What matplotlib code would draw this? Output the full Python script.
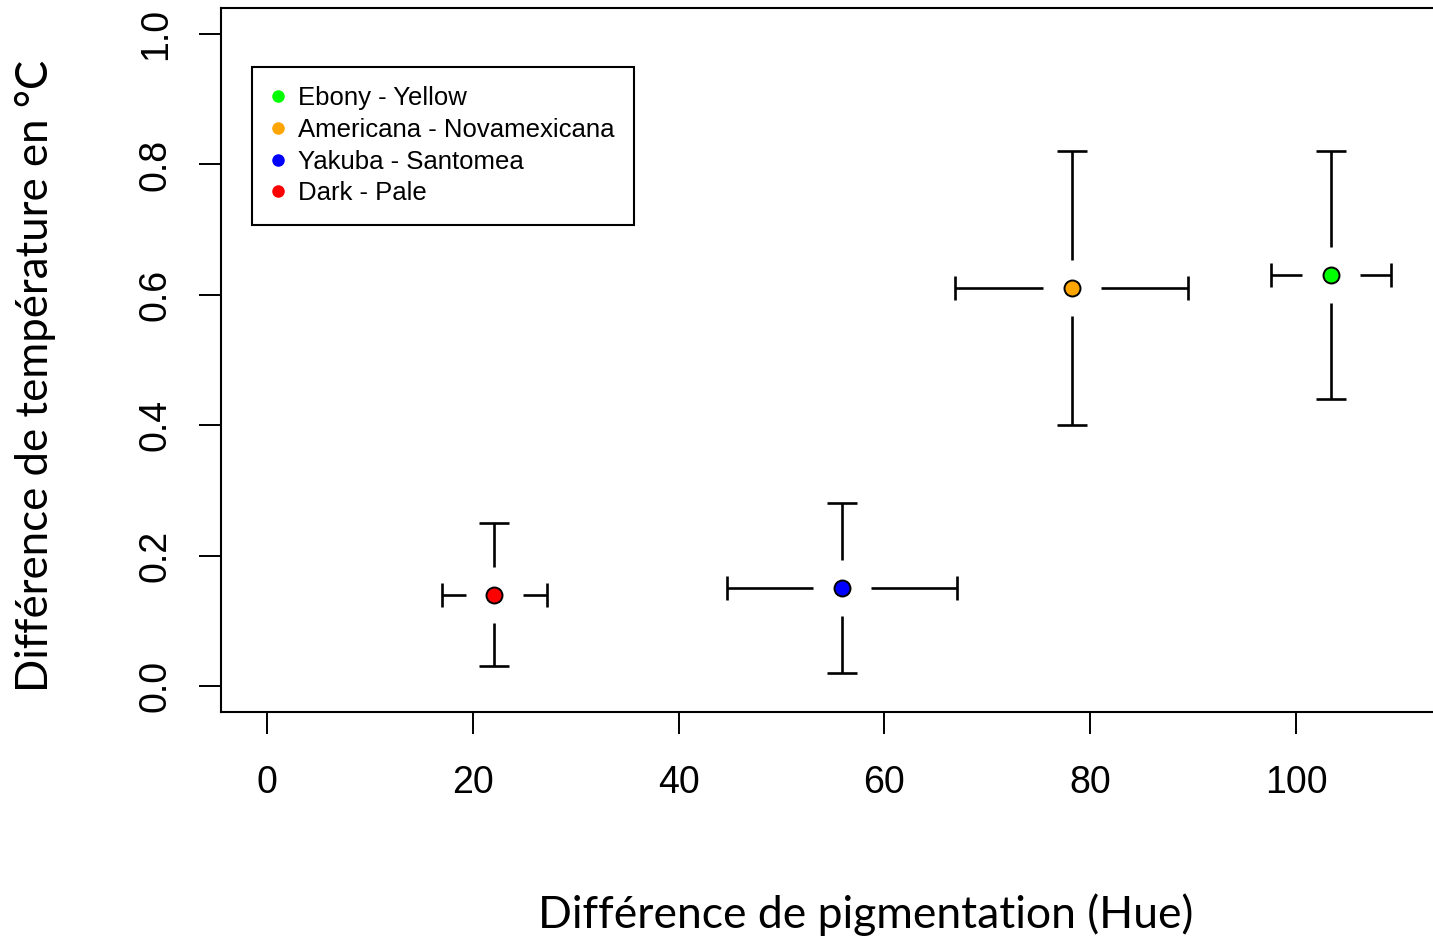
import matplotlib.pyplot as plt
import numpy as np

# data
names = ['Ebony - Yellow', 'Americana - Novamexicana', 'Yakuba - Santomea', 'Dark - Pale']
colors = ['#00FF00', '#FFA500', '#0000FF', '#FF0000']
hue = [103.4, 78.2, 55.9, 22.1]
hue_err = [5.8, 11.3, 11.2, 5.1]
temp = [0.63, 0.61, 0.15, 0.14]
temp_lo = [0.44, 0.40, 0.02, 0.03]
temp_hi = [0.82, 0.82, 0.28, 0.25]

W, H = 1433, 940
fig = plt.figure(figsize=(W / 100, H / 100), dpi=100)
ax = fig.add_axes([221 / W, 1 - 712 / H, (1437 - 221) / W, (712 - 8) / H])
ax.set_xlim(-4.47, 113.7)
ax.set_ylim(-0.04, 1.04)

# gap left around each point (R arrows style)
gx, gy = 2.8, 0.043
lw = 1.9
for x, xe, y, lo, hi, c in zip(hue, hue_err, temp, temp_lo, temp_hi, colors):
    # horizontal bar
    ax.plot([x - xe, x - gx], [y, y], color='black', lw=lw, solid_capstyle='butt')
    ax.plot([x + gx, x + xe], [y, y], color='black', lw=lw, solid_capstyle='butt')
    ax.plot([x - xe, x + xe], [y, y], ls='none', marker='|', ms=17, mew=lw, color='black')
    # vertical bar
    ax.plot([x, x], [hi, y + gy], color='black', lw=lw, solid_capstyle='butt')
    ax.plot([x, x], [y - gy, lo], color='black', lw=lw, solid_capstyle='butt')
    ax.plot([x, x], [lo, hi], ls='none', marker='_', ms=22, mew=lw, color='black')
    ax.plot(x, y, 'o', ms=11.5, mfc=c, mec='black', mew=1.4, zorder=5)

for s in ax.spines.values():
    s.set_linewidth(1.5)

ax.set_xticks([0, 20, 40, 60, 80, 100])
ax.set_yticks([0.0, 0.2, 0.4, 0.6, 0.8, 1.0])
ax.set_yticklabels(['0.0', '0.2', '0.4', '0.6', '0.8', '1.0'])
ax.tick_params(direction='out', length=16, width=1.4, labelsize=27)
ax.tick_params(axis='x', pad=22)
ax.tick_params(axis='y', pad=18)
for lab in ax.get_yticklabels():
    lab.set_fontfamily('Liberation Sans')
    lab.set_rotation(90)
    lab.set_va('center')
for lab in ax.get_xticklabels():
    lab.set_fontfamily('Liberation Sans')

handles = [plt.Line2D([], [], ls='none', marker='o', ms=8, mfc=c, mec=c) for c in colors]
leg = ax.legend(handles, names, loc='upper left', bbox_to_anchor=(252 / W, 1 - 67 / H),
                bbox_transform=fig.transFigure, borderaxespad=0, fancybox=False,
                edgecolor='black', framealpha=1, prop={'family': 'Liberation Sans', 'size': 18.5},
                handlelength=0.5, handletextpad=0.55, labelspacing=0.3, borderpad=0.75)
leg.get_frame().set_linewidth(1.5)

fig.text(866 / W, 1 - 915 / H, 'Différence de pigmentation (Hue)', ha='center', va='center',
         fontsize=32, family='Lato')
fig.text(35 / W, 1 - 376 / H, 'Différence de température en °C', ha='center', va='center',
         rotation=90, fontsize=31.5, family='Lato')

fig.savefig('out.png', dpi=100)
